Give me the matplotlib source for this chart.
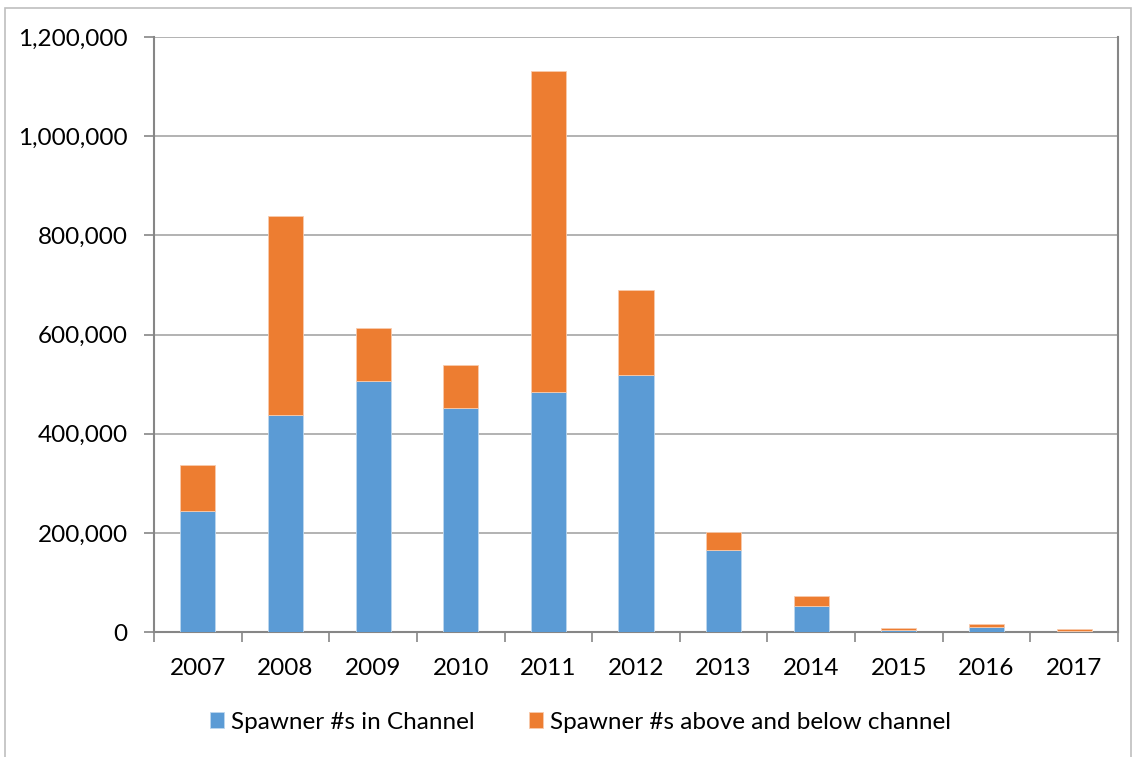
import matplotlib
matplotlib.use('Agg')
import matplotlib.pyplot as plt
import numpy as np
from matplotlib.patches import Rectangle
from matplotlib.ticker import FuncFormatter

plt.rcParams['font.family'] = ['Lato', 'DejaVu Sans']

years = ['2007', '2008', '2009', '2010', '2011', '2012', '2013', '2014', '2015', '2016', '2017']
in_channel = [244000, 438000, 506000, 452000, 484000, 518000, 165000, 52000, 4600, 10000, 3000]
totals = [337000, 839000, 613000, 538000, 1131000, 690000, 202000, 73000, 8000, 16000, 5400]
above_below = [t - c for t, c in zip(totals, in_channel)]

blue = '#5B9BD5'
orange = '#ED7D31'

fig = plt.figure(figsize=(11.36, 7.57), dpi=100)
ax = fig.add_axes([0.1356, 0.165, 0.8485, 0.786])

x = np.arange(len(years))
ax.bar(x, in_channel, width=0.4, color=blue, edgecolor='#BDD7EE', linewidth=0.6,
       label='Spawner #s in Channel', zorder=3)
ax.bar(x, above_below, width=0.4, bottom=in_channel, color=orange, edgecolor='#F8CBAD',
       linewidth=0.6, label='Spawner #s above and below channel', zorder=3)

ax.set_xlim(-0.5, len(years) - 0.5)
ax.set_ylim(0, 1200000)
ax.set_yticks(np.arange(0, 1200001, 200000))
ax.yaxis.set_major_formatter(FuncFormatter(lambda v, p: f'{int(v):,}'))
ax.yaxis.grid(True, color='#A6A6A6', linewidth=1.2, zorder=0)
ax.set_axisbelow(True)

ax.set_xticks(x)
ax.set_xticklabels(years)
ax.set_xticks(np.arange(-0.5, len(years)), minor=True)
ax.tick_params(axis='x', which='major', length=0, pad=19, labelsize=17.5)
ax.tick_params(axis='x', which='minor', length=7, color='#868686', width=1.2)
ax.tick_params(axis='y', length=7, color='#868686', width=1.2, labelsize=17.5, pad=12)

for side in ['left', 'bottom', 'right']:
    ax.spines[side].set_color('#868686')
    ax.spines[side].set_linewidth(1.5)
ax.spines['top'].set_visible(False)

fig.legend(loc='center', bbox_to_anchor=(0.511, 0.046), ncol=2, frameon=False,
           fontsize=17.5, handlelength=0.6, handleheight=0.6, handletextpad=0.3,
           columnspacing=2.2)

fig.patches.append(Rectangle((0.0045, -0.01), 0.991, 1.0, transform=fig.transFigure,
                             fill=False, edgecolor='#BFBFBF', linewidth=1.2))

fig.savefig('out.png', dpi=100)
